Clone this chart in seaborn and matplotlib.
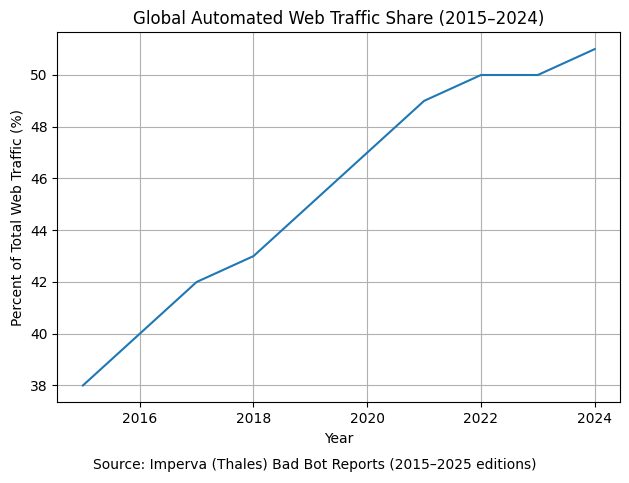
import matplotlib
matplotlib.use("Agg")
import matplotlib.pyplot as plt
import seaborn as sns
import pandas as pd

years = [2015, 2016, 2017, 2018, 2019, 2020, 2021, 2022, 2023, 2024]
share = [38, 40, 42, 43, 45, 47, 49, 50, 50, 51]

df = pd.DataFrame({"Year": years, "Share": share})

fig, ax = plt.subplots(figsize=(6.29, 4.83), dpi=100)
sns.lineplot(data=df, x="Year", y="Share", ax=ax, color="#1f77b4")
ax.set_title("Global Automated Web Traffic Share (2015–2024)")
ax.set_xlabel("Year")
ax.set_ylabel("Percent of Total Web Traffic (%)")
ax.grid(True)
fig.subplots_adjust(left=57.3 / 629, right=620.3 / 629,
                    top=1 - 32.3 / 483, bottom=1 - 402.3 / 483)
fig.text(0.5, 1 - 465 / 483, "Source: Imperva (Thales) Bad Bot Reports (2015–2025 editions)",
         ha="center", va="center", fontsize=10)
fig.savefig("out.png", dpi=100)
